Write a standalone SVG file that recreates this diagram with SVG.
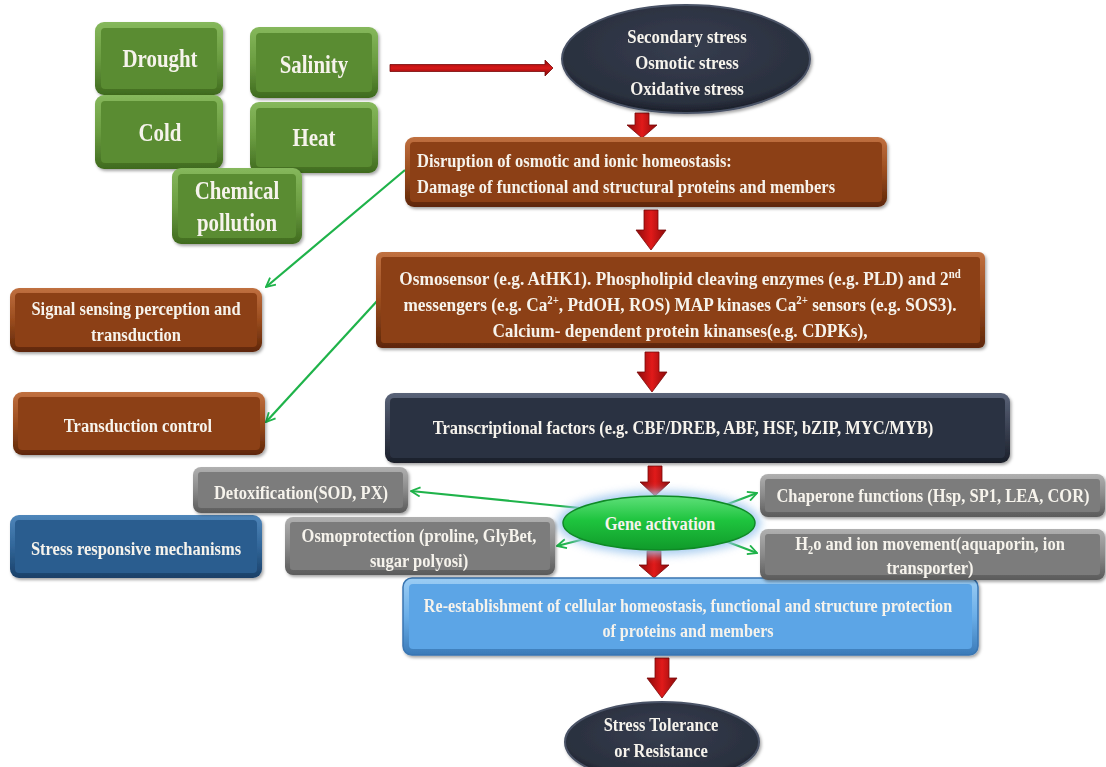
<svg xmlns="http://www.w3.org/2000/svg" width="1106" height="767" viewBox="0 0 1106 767">
  <defs>
    <style>
      .t { font-family: "Liberation Serif", "Times New Roman", serif; font-weight: bold; fill: #f6f3ec; font-size: 19.2px; text-anchor: middle; }
      .tl { text-anchor: start; }
      .g { font-size: 25.5px; }
      .e { font-size: 19.5px; }
      .sup { font-size: 12px; }
      .red { fill: url(#redV); stroke: #7a0808; stroke-width: 0.8; }
      .link { fill: none; stroke: #1fb34a; stroke-width: 2.2; marker-end: url(#openHead); }
      .shadow { filter: url(#sh); }
    </style>
    <filter id="sh" x="-10%" y="-10%" width="120%" height="130%">
      <feDropShadow dx="1.5" dy="2" stdDeviation="1.5" flood-color="#000" flood-opacity="0.35"/>
    </filter>
    <filter id="glow" x="-30%" y="-50%" width="160%" height="200%">
      <feGaussianBlur stdDeviation="4"/>
    </filter>
    <marker id="openHead" viewBox="0 0 12 12" refX="11" refY="6" markerWidth="5" markerHeight="5" orient="auto" markerUnits="strokeWidth">
      <path d="M1,1 L11,6 L1,11" fill="none" stroke="#1fb34a" stroke-width="2"/>
    </marker>
    <linearGradient id="redV" x1="0" y1="0" x2="1" y2="0">
      <stop offset="0" stop-color="#8c0a0a"/>
      <stop offset="0.5" stop-color="#e11a1a"/>
      <stop offset="1" stop-color="#8c0a0a"/>
    </linearGradient>
    <linearGradient id="redH" x1="0" y1="0" x2="0" y2="1">
      <stop offset="0" stop-color="#8c0a0a"/>
      <stop offset="0.5" stop-color="#d81818"/>
      <stop offset="1" stop-color="#7a0808"/>
    </linearGradient>
    <!-- bevel frames: light top edge, dark bottom edge -->
    <linearGradient id="frGreen" x1="0" y1="0" x2="0" y2="1">
      <stop offset="0" stop-color="#86b85c"/>
      <stop offset="0.5" stop-color="#6a9c40"/>
      <stop offset="1" stop-color="#3f6a1e"/>
    </linearGradient>
    <linearGradient id="frBrown" x1="0" y1="0" x2="0" y2="1">
      <stop offset="0" stop-color="#c07040"/>
      <stop offset="0.5" stop-color="#9a4c1e"/>
      <stop offset="1" stop-color="#5e2608"/>
    </linearGradient>
    <linearGradient id="frNavy" x1="0" y1="0" x2="0" y2="1">
      <stop offset="0" stop-color="#5a6378"/>
      <stop offset="0.5" stop-color="#3a4152"/>
      <stop offset="1" stop-color="#1b1f2a"/>
    </linearGradient>
    <linearGradient id="frGray" x1="0" y1="0" x2="0" y2="1">
      <stop offset="0" stop-color="#b0b0b0"/>
      <stop offset="0.5" stop-color="#8a8a8a"/>
      <stop offset="1" stop-color="#5a5a5a"/>
    </linearGradient>
    <linearGradient id="frBlue" x1="0" y1="0" x2="0" y2="1">
      <stop offset="0" stop-color="#4f86ba"/>
      <stop offset="0.5" stop-color="#316699"/>
      <stop offset="1" stop-color="#1a4068"/>
    </linearGradient>
    <linearGradient id="frSky" x1="0" y1="0" x2="0" y2="1">
      <stop offset="0" stop-color="#9ccdf4"/>
      <stop offset="0.5" stop-color="#6aaee8"/>
      <stop offset="1" stop-color="#3a7ab8"/>
    </linearGradient>
    <radialGradient id="navyEl" cx="0.5" cy="0.4" r="0.6">
      <stop offset="0" stop-color="#363d4f"/>
      <stop offset="0.85" stop-color="#2a303e"/>
      <stop offset="1" stop-color="#1a1e28"/>
    </radialGradient>
    <linearGradient id="geneFill" x1="0" y1="0" x2="0" y2="1">
      <stop offset="0" stop-color="#5fe07a"/>
      <stop offset="0.45" stop-color="#1ec43e"/>
      <stop offset="1" stop-color="#109a2a"/>
    </linearGradient>
  </defs>

  <rect width="1106" height="767" fill="#ffffff"/>

  <!-- connectors -->
  <g id="connectors">
    <path class="red" style="fill:url(#redH)" d="M390,64.5 H545 V60 L553,68 L545,76 V71.5 H390 Z"/>
    <path class="red" d="M635,113 H649 V125 H657 L642,138 L627,125 H635 Z"/>
    <path class="red" d="M644,210 H658 V230 H666 L651,250 L636,230 H644 Z"/>
    <path class="red" d="M645,352 H659 V372 H667 L652,392 L637,372 H645 Z"/>
    <path class="red" d="M648,466 H662 V482 H670 L655,496 L640,482 H648 Z"/>
    <path class="red" d="M647,551 H661 V565 H669 L654,578 L639,565 H647 Z"/>
    <path class="red" d="M655,658 H669 V678 H677 L662,698 L647,678 H655 Z"/>
    <line class="link" x1="405" y1="170" x2="266" y2="287"/>
    <line class="link" x1="378" y1="300" x2="266" y2="422"/>
    <line class="link" x1="600" y1="510" x2="411" y2="491"/>
    <line class="link" x1="600" y1="535" x2="557" y2="546"/>
    <line class="link" x1="712" y1="510" x2="757" y2="493"/>
    <line class="link" x1="712" y1="536" x2="757" y2="553"/>
  </g>

  <!-- primary stresses -->
  <g id="drought" class="shadow">
    <rect x="95" y="22" width="128" height="73" rx="9" fill="url(#frGreen)"/>
    <rect x="101" y="28" width="116" height="61" rx="4" fill="#5a8c31"/>
    <g transform="translate(160 0) scale(0.82 1)"><text class="t g" x="0" y="67">Drought</text></g>
  </g>
  <g id="salinity" class="shadow">
    <rect x="250" y="27" width="128" height="71" rx="9" fill="url(#frGreen)"/>
    <rect x="256" y="33" width="116" height="59" rx="4" fill="#5a8c31"/>
    <g transform="translate(314 0) scale(0.82 1)"><text class="t g" x="0" y="73">Salinity</text></g>
  </g>
  <g id="cold" class="shadow">
    <rect x="95" y="95" width="128" height="74" rx="9" fill="url(#frGreen)"/>
    <rect x="101" y="101" width="116" height="62" rx="4" fill="#5a8c31"/>
    <g transform="translate(160 0) scale(0.82 1)"><text class="t g" x="0" y="141">Cold</text></g>
  </g>
  <g id="heat" class="shadow">
    <rect x="250" y="102" width="128" height="71" rx="9" fill="url(#frGreen)"/>
    <rect x="256" y="108" width="116" height="59" rx="4" fill="#5a8c31"/>
    <g transform="translate(314 0) scale(0.82 1)"><text class="t g" x="0" y="146">Heat</text></g>
  </g>
  <g id="chemical" class="shadow">
    <rect x="172" y="168" width="130" height="76" rx="9" fill="url(#frGreen)"/>
    <rect x="178" y="174" width="118" height="64" rx="4" fill="#5a8c31"/>
    <g transform="translate(237 0) scale(0.82 1)">
      <text class="t g" x="0" y="199">Chemical</text>
      <text class="t g" x="0" y="231">pollution</text>
    </g>
  </g>

  <!-- secondary stress -->
  <g id="secondary" class="shadow">
    <ellipse cx="686" cy="59" rx="124" ry="54" fill="url(#navyEl)" stroke="#4a5266" stroke-width="2"/>
    <g transform="translate(687 0) scale(0.86 1)">
      <text class="t e" x="0" y="43">Secondary stress</text>
      <text class="t e" x="0" y="69">Osmotic stress</text>
      <text class="t e" x="0" y="95">Oxidative stress</text>
    </g>
  </g>

  <!-- main column -->
  <g id="disruption" class="shadow">
    <rect x="405" y="137" width="482" height="70" rx="9" fill="url(#frBrown)"/>
    <rect x="410" y="142" width="472" height="60" rx="4" fill="#8c3f14"/>
    <g transform="translate(417 0) scale(0.86 1)">
      <text class="t tl" x="0" y="167">Disruption of osmotic and ionic homeostasis:</text>
      <text class="t tl" x="0" y="193">Damage of functional and structural proteins and members</text>
    </g>
  </g>
  <g id="sensing-detail" class="shadow">
    <rect x="376" y="252" width="609" height="96" rx="6" fill="url(#frBrown)"/>
    <rect x="381" y="257" width="599" height="86" rx="3" fill="#8c3f14"/>
    <g transform="translate(680 0) scale(0.9 1)">
      <text class="t" x="0" y="285">Osmosensor (e.g. AtHK1). Phospholipid cleaving enzymes (e.g. PLD) and 2<tspan class="sup" dy="-7">nd</tspan></text>
      <text class="t" x="0" y="311">messengers (e.g. Ca<tspan class="sup" dy="-7">2+</tspan><tspan dy="7">, PtdOH, ROS) MAP kinases Ca</tspan><tspan class="sup" dy="-7">2+</tspan><tspan dy="7"> sensors (e.g. SOS3).</tspan></text>
      <text class="t" x="0" y="337">Calcium- dependent protein kinanses(e.g. CDPKs),</text>
    </g>
  </g>
  <g id="transcription" class="shadow">
    <rect x="385" y="393" width="625" height="70" rx="9" fill="url(#frNavy)"/>
    <rect x="390" y="398" width="615" height="60" rx="4" fill="#2c3242"/>
    <g transform="translate(683 0) scale(0.86 1)">
      <text class="t" x="0" y="434">Transcriptional factors (e.g. CBF/DREB, ABF, HSF, bZIP, MYC/MYB)</text>
    </g>
  </g>
  <g id="gene-activation">
    <ellipse cx="659" cy="523" rx="102" ry="32" fill="#9cc6ee" opacity="0.85" filter="url(#glow)"/>
    <ellipse cx="659" cy="523" rx="96" ry="27" fill="url(#geneFill)" stroke="#0f8a26" stroke-width="1.5"/>
    <g transform="translate(660 0) scale(0.86 1)">
      <text class="t" x="0" y="530">Gene activation</text>
    </g>
  </g>
  <g id="reestablishment" class="shadow">
    <rect x="403" y="578" width="575" height="77" rx="9" fill="url(#frSky)" stroke="#3a76b2" stroke-width="1.5"/>
    <rect x="409" y="584" width="563" height="65" rx="4" fill="#5ca5e6"/>
    <g transform="translate(688 0) scale(0.84 1)">
      <text class="t" x="0" y="612">Re-establishment of cellular homeostasis, functional and structure protection</text>
      <text class="t" x="0" y="637">of proteins and members</text>
    </g>
  </g>
  <g id="tolerance" class="shadow">
    <ellipse cx="662" cy="742" rx="97" ry="40" fill="url(#navyEl)" stroke="#4a5266" stroke-width="2"/>
    <g transform="translate(661 0) scale(0.86 1)">
      <text class="t" x="0" y="731">Stress Tolerance</text>
      <text class="t" x="0" y="757">or Resistance</text>
    </g>
  </g>

  <!-- left-hand stage labels -->
  <g id="signal-sensing" class="shadow">
    <rect x="10" y="288" width="252" height="64" rx="9" fill="url(#frBrown)"/>
    <rect x="15" y="293" width="242" height="54" rx="4" fill="#8c3f14"/>
    <g transform="translate(136 0) scale(0.86 1)">
      <text class="t" x="0" y="315">Signal sensing perception and</text>
      <text class="t" x="0" y="341">transduction</text>
    </g>
  </g>
  <g id="transduction-control" class="shadow">
    <rect x="13" y="392" width="252" height="63" rx="9" fill="url(#frBrown)"/>
    <rect x="18" y="397" width="242" height="53" rx="4" fill="#8c3f14"/>
    <g transform="translate(138 0) scale(0.86 1)">
      <text class="t" x="0" y="432">Transduction control</text>
    </g>
  </g>
  <g id="stress-responsive" class="shadow">
    <rect x="10" y="515" width="252" height="63" rx="9" fill="url(#frBlue)"/>
    <rect x="15" y="520" width="242" height="53" rx="4" fill="#2a5d8f"/>
    <g transform="translate(136 0) scale(0.86 1)">
      <text class="t" x="0" y="555">Stress responsive mechanisms</text>
    </g>
  </g>

  <!-- response mechanisms -->
  <g id="detoxification" class="shadow">
    <rect x="193" y="467" width="215" height="46" rx="8" fill="url(#frGray)"/>
    <rect x="198" y="472" width="205" height="36" rx="3" fill="#7c7c7c"/>
    <g transform="translate(301 0) scale(0.86 1)">
      <text class="t" x="0" y="499">Detoxification(SOD, PX)</text>
    </g>
  </g>
  <g id="osmoprotection" class="shadow">
    <rect x="285" y="517" width="270" height="58" rx="8" fill="url(#frGray)"/>
    <rect x="290" y="522" width="260" height="48" rx="3" fill="#7c7c7c"/>
    <g transform="translate(419 0) scale(0.86 1)">
      <text class="t" x="0" y="542">Osmoprotection (proline, GlyBet,</text>
      <text class="t" x="0" y="567">sugar polyosi)</text>
    </g>
  </g>
  <g id="chaperone" class="shadow">
    <rect x="760" y="474" width="345" height="43" rx="8" fill="url(#frGray)"/>
    <rect x="765" y="479" width="335" height="33" rx="3" fill="#7c7c7c"/>
    <g transform="translate(933 0) scale(0.86 1)">
      <text class="t" x="0" y="502">Chaperone functions (Hsp, SP1, LEA, COR)</text>
    </g>
  </g>
  <g id="water-ion" class="shadow">
    <rect x="760" y="529" width="345" height="51" rx="8" fill="url(#frGray)"/>
    <rect x="765" y="534" width="335" height="41" rx="3" fill="#7c7c7c"/>
    <g transform="translate(930 0) scale(0.86 1)">
      <text class="t" x="0" y="550">H<tspan class="sup" dy="4">2</tspan><tspan dy="-4">o and ion movement(aquaporin, ion</tspan></text>
      <text class="t" x="0" y="574">transporter)</text>
    </g>
  </g>
</svg>
